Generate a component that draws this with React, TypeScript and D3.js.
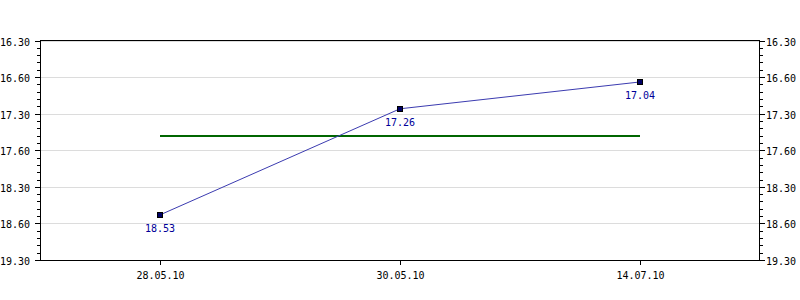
import React from "react";
import * as d3 from "d3";

// Data (times in "minutes.seconds" notation as shown on the chart)
const categories = ["28.05.10", "30.05.10", "14.07.10"];
const times = [18.53, 17.26, 17.04];
const averageTime = 17.48;
const yTickLabels = ["16.30", "16.60", "17.30", "17.60", "18.30", "18.60", "19.30"];
const yTickValues = [16.5, 17.0, 17.5, 18.0, 18.5, 19.0, 19.5];

const W = 800;
const H = 300;
const M = { left: 40, right: 40, top: 40.5, bottom: 40 };

// convert m.ss notation to decimal minutes
const toMinutes = (v: number) => {
  const m = Math.floor(v);
  const s = Math.round((v - m) * 100);
  return m + s / 60;
};

export default function App() {
  const x = d3
    .scaleBand<string>()
    .domain(categories)
    .range([M.left, W - M.right])
    .padding(0);
  const y = d3
    .scaleLinear()
    .domain([16.5, 19.5])
    .range([M.top, H - M.bottom]);

  const cx = (c: string) => (x(c) as number) + x.bandwidth() / 2;
  const pts = categories.map((c, i) => [cx(c), y(toMinutes(times[i]))] as [number, number]);
  const line = d3.line()(pts) as string;

  const minorTicks = d3.range(16.5, 19.5001, 0.1);
  const font = "'DejaVu Sans Mono', monospace";
  const xl = M.left;
  const xr = W - M.right - 1;
  const yb = H - M.bottom;
  const avgY = Math.round(y(toMinutes(averageTime)));

  return (
    <svg
      width={W}
      height={H}
      style={{ position: "absolute", left: 0, top: 0, background: "#fff" }}
      shapeRendering="crispEdges"
    >
      {/* grid */}
      {yTickValues.map((v, i) => (
        <line
          key={"g" + i}
          x1={xl}
          x2={xr}
          y1={Math.round(y(v)) + 0.5}
          y2={Math.round(y(v)) + 0.5}
          stroke="#dcdcdc"
        />
      ))}
      {/* frame: top, bottom, left, right */}
      <line x1={xl} x2={xr + 1} y1={M.top} y2={M.top} stroke="#000" />
      <line x1={xl} x2={xr + 1} y1={yb + 0.5} y2={yb + 0.5} stroke="#000" />
      <line x1={xl + 0.5} x2={xl + 0.5} y1={M.top} y2={yb} stroke="#000" />
      <line x1={xr + 0.5} x2={xr + 0.5} y1={M.top} y2={yb} stroke="#000" />

      {/* minor ticks */}
      {minorTicks.map((v, i) => {
        const yy = Math.round(y(v)) + 0.5;
        return (
          <g key={"m" + i}>
            <line x1={xl - 3} x2={xl} y1={yy} y2={yy} stroke="#000" />
            <line x1={xr + 1} x2={xr + 4} y1={yy} y2={yy} stroke="#000" />
          </g>
        );
      })}
      {/* major ticks and labels */}
      {yTickValues.map((v, i) => {
        const yy = Math.round(y(v)) + 0.5;
        return (
          <g key={"t" + i}>
            <line x1={xl - 5} x2={xl} y1={yy} y2={yy} stroke="#000" />
            <line x1={xr + 1} x2={xr + 6} y1={yy} y2={yy} stroke="#000" />
            <text x={xl - 10} y={yy + 4} textAnchor="end" fontFamily={font} fontSize={10} fill="#000">
              {yTickLabels[i]}
            </text>
            <text x={xr + 7} y={yy + 4} textAnchor="start" fontFamily={font} fontSize={10} fill="#000">
              {yTickLabels[i]}
            </text>
          </g>
        );
      })}
      {/* x ticks */}
      {categories.map((c) => {
        const xx = Math.round(cx(c)) + 0.5;
        return (
          <g key={"x" + c}>
            <line x1={xx} x2={xx} y1={yb} y2={yb + 5} stroke="#000" />
            <text x={xx} y={yb + 19} textAnchor="middle" fontFamily={font} fontSize={10} fill="#000">
              {c}
            </text>
          </g>
        );
      })}

      {/* average line */}
      <line
        x1={cx(categories[0])}
        x2={cx(categories[categories.length - 1])}
        y1={avgY}
        y2={avgY}
        stroke="#006600"
        strokeWidth={2}
      />

      {/* series */}
      <path d={line} fill="none" stroke="#3b3bb0" strokeWidth={1} shapeRendering="auto" />
      {pts.map((p, i) => (
        <g key={"p" + i}>
          <rect
            x={Math.round(p[0]) - 2.5}
            y={Math.round(p[1]) - 2.5}
            width={5}
            height={5}
            fill="#000066"
            stroke="#000"
            strokeWidth={1}
          />
          <text
            x={p[0]}
            y={p[1] + 17}
            textAnchor="middle"
            fontFamily={font}
            fontSize={10}
            fill="#000099"
          >
            {times[i].toFixed(2)}
          </text>
        </g>
      ))}
    </svg>
  );
}
